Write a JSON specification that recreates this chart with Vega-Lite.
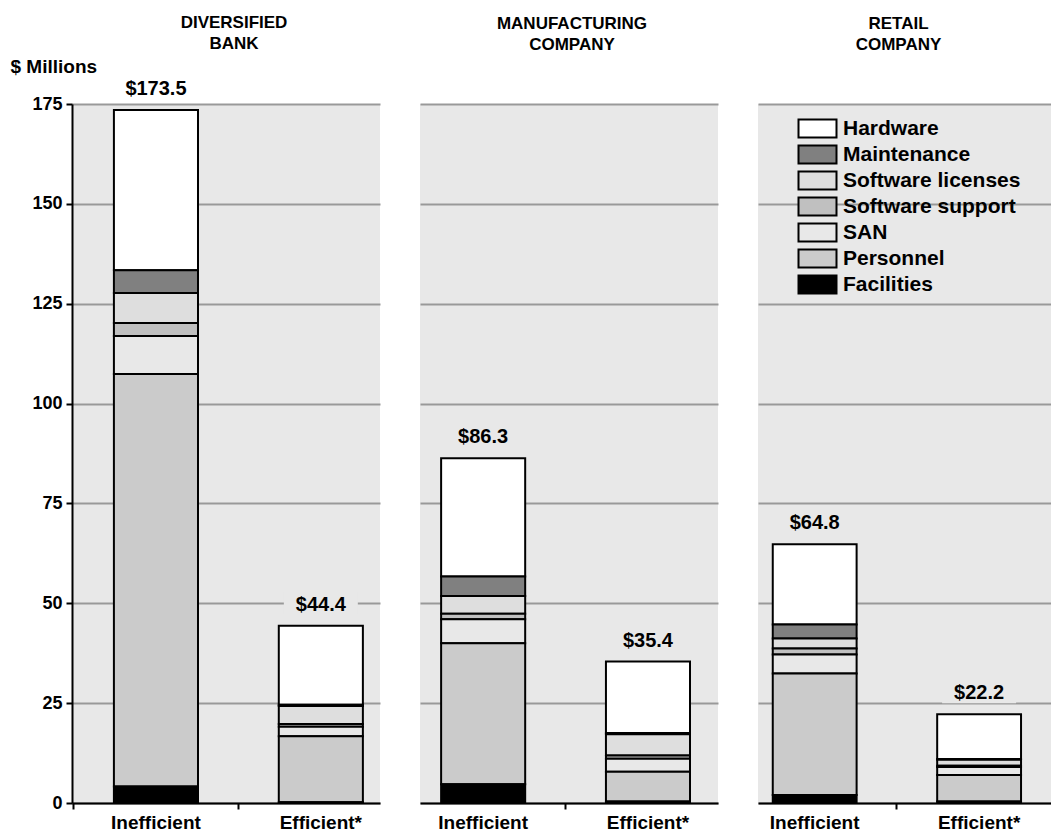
{
  "$schema": "https://vega.github.io/schema/vega-lite/v6.json",
  "background": "white",
  "padding": {"left": 10, "top": 14, "right": 0, "bottom": 0},
  "bounds": "flush",
  "spacing": 40,
  "config": {
    "font": "Liberation Sans",
    "view": {"fill": "#e8e8e8", "stroke": null},
    "title": {"font": "Liberation Sans", "fontWeight": "bold", "fontSize": 17, "color": "black", "lineHeight": 21, "anchor": "middle", "offset": 50},
    "axis": {"labelFont": "Liberation Sans", "titleFont": "Liberation Sans", "labelColor": "black", "titleColor": "black"}
  },
  "datasets": {
    "costs": [
      {"company": "Diversified Bank", "scenario": "Inefficient", "category": "Hardware", "value": 40.1},
      {"company": "Diversified Bank", "scenario": "Inefficient", "category": "Maintenance", "value": 5.7},
      {"company": "Diversified Bank", "scenario": "Inefficient", "category": "Software licenses", "value": 7.5},
      {"company": "Diversified Bank", "scenario": "Inefficient", "category": "Software support", "value": 3.3},
      {"company": "Diversified Bank", "scenario": "Inefficient", "category": "SAN", "value": 9.5},
      {"company": "Diversified Bank", "scenario": "Inefficient", "category": "Personnel", "value": 103.3},
      {"company": "Diversified Bank", "scenario": "Inefficient", "category": "Facilities", "value": 4.1},
      {"company": "Diversified Bank", "scenario": "Efficient*", "category": "Hardware", "value": 19.8},
      {"company": "Diversified Bank", "scenario": "Efficient*", "category": "Maintenance", "value": 0.3},
      {"company": "Diversified Bank", "scenario": "Efficient*", "category": "Software licenses", "value": 4.5},
      {"company": "Diversified Bank", "scenario": "Efficient*", "category": "Software support", "value": 0.7},
      {"company": "Diversified Bank", "scenario": "Efficient*", "category": "SAN", "value": 2.4},
      {"company": "Diversified Bank", "scenario": "Efficient*", "category": "Personnel", "value": 16.5},
      {"company": "Diversified Bank", "scenario": "Efficient*", "category": "Facilities", "value": 0.2},
      {"company": "Manufacturing Company", "scenario": "Inefficient", "category": "Hardware", "value": 29.6},
      {"company": "Manufacturing Company", "scenario": "Inefficient", "category": "Maintenance", "value": 4.9},
      {"company": "Manufacturing Company", "scenario": "Inefficient", "category": "Software licenses", "value": 4.4},
      {"company": "Manufacturing Company", "scenario": "Inefficient", "category": "Software support", "value": 1.4},
      {"company": "Manufacturing Company", "scenario": "Inefficient", "category": "SAN", "value": 6.0},
      {"company": "Manufacturing Company", "scenario": "Inefficient", "category": "Personnel", "value": 35.3},
      {"company": "Manufacturing Company", "scenario": "Inefficient", "category": "Facilities", "value": 4.7},
      {"company": "Manufacturing Company", "scenario": "Efficient*", "category": "Hardware", "value": 17.9},
      {"company": "Manufacturing Company", "scenario": "Efficient*", "category": "Maintenance", "value": 0.3},
      {"company": "Manufacturing Company", "scenario": "Efficient*", "category": "Software licenses", "value": 5.3},
      {"company": "Manufacturing Company", "scenario": "Efficient*", "category": "Software support", "value": 0.8},
      {"company": "Manufacturing Company", "scenario": "Efficient*", "category": "SAN", "value": 3.3},
      {"company": "Manufacturing Company", "scenario": "Efficient*", "category": "Personnel", "value": 7.4},
      {"company": "Manufacturing Company", "scenario": "Efficient*", "category": "Facilities", "value": 0.4},
      {"company": "Retail Company", "scenario": "Inefficient", "category": "Hardware", "value": 20.1},
      {"company": "Retail Company", "scenario": "Inefficient", "category": "Maintenance", "value": 3.5},
      {"company": "Retail Company", "scenario": "Inefficient", "category": "Software licenses", "value": 2.5},
      {"company": "Retail Company", "scenario": "Inefficient", "category": "Software support", "value": 1.5},
      {"company": "Retail Company", "scenario": "Inefficient", "category": "SAN", "value": 4.8},
      {"company": "Retail Company", "scenario": "Inefficient", "category": "Personnel", "value": 30.4},
      {"company": "Retail Company", "scenario": "Inefficient", "category": "Facilities", "value": 2.0},
      {"company": "Retail Company", "scenario": "Efficient*", "category": "Hardware", "value": 11.2},
      {"company": "Retail Company", "scenario": "Efficient*", "category": "Maintenance", "value": 0.2},
      {"company": "Retail Company", "scenario": "Efficient*", "category": "Software licenses", "value": 1.5},
      {"company": "Retail Company", "scenario": "Efficient*", "category": "Software support", "value": 0.3},
      {"company": "Retail Company", "scenario": "Efficient*", "category": "SAN", "value": 2.0},
      {"company": "Retail Company", "scenario": "Efficient*", "category": "Personnel", "value": 6.6},
      {"company": "Retail Company", "scenario": "Efficient*", "category": "Facilities", "value": 0.4}
    ]
  },
  "resolve": {"scale": {"fill": "independent", "x": "independent", "y": "independent"}, "legend": {"fill": "independent"}, "axis": {"x": "independent", "y": "independent"}},
  "hconcat": [
    {
      "width": 308, "height": 699,
      "title": {"text": ["DIVERSIFIED", "BANK"], "dx": 8, "dy": 46},
      "data": {"name": "costs"},
      "transform": [{"filter": "datum.company === 'Diversified Bank'"}],
      "encoding": {
        "x": {"field": "scenario", "type": "nominal", "sort": ["Inefficient", "Efficient*"],
          "scale": {"paddingInner": 0.49, "paddingOuter": 0.179, "align": 0.71},
          "axis": {"title": null, "labelAngle": 0, "labelFontSize": 19, "labelFontWeight": "bold", "labelPadding": 4, "tickSize": 6, "tickWidth": 2, "tickColor": "black", "domainColor": "black", "domainWidth": 2, "bandPosition": -0.48, "grid": false}}
      },
      "layer": [
        {
          "transform": [{"calculate": "indexof(['Hardware', 'Maintenance', 'Software licenses', 'Software support', 'SAN', 'Personnel', 'Facilities'], datum.category)", "as": "stackRank"}],
          "mark": {"type": "bar", "stroke": "black", "strokeWidth": 2},
          "encoding": {
            "y": {"field": "value", "type": "quantitative", "stack": "zero",
              "scale": {"domain": [0, 175], "nice": false},
              "axis": {"values": [0, 25, 50, 75, 100, 125, 150, 175], "title": "$ Millions", "titleAngle": 0, "titleAlign": "left", "titleBaseline": "alphabetic", "titleX": -62, "titleY": -32, "titleFontSize": 19, "titleFontWeight": "bold", "labelFontSize": 18, "labelFontWeight": "bold", "labelPadding": 4, "tickSize": 6, "tickWidth": 2, "tickColor": "black", "domainColor": "black", "domainWidth": 2, "grid": true, "gridColor": "#999999", "gridWidth": 2}},
            "order": {"field": "stackRank", "type": "quantitative", "sort": "descending"},
            "fill": {"field": "category", "type": "nominal",
              "scale": {"domain": ["Hardware", "Maintenance", "Software licenses", "Software support", "SAN", "Personnel", "Facilities"], "range": ["#ffffff", "#808080", "#dedede", "#c0c0c0", "#e8e8e8", "#cbcbcb", "#000000"]},
              "legend": null}
          }
        },
        {
          "transform": [{"aggregate": [{"op": "sum", "field": "value", "as": "total"}], "groupby": ["scenario"]}],
          "mark": {"type": "bar", "fill": "#e8e8e8", "width": 74, "yOffset": -33, "y2Offset": -11, "clip": true},
          "encoding": {"y": {"field": "total", "type": "quantitative"}, "y2": {"field": "total"}}
        },
        {
          "transform": [{"aggregate": [{"op": "sum", "field": "value", "as": "total"}], "groupby": ["scenario"]}],
          "mark": {"type": "text", "dy": -21, "fontSize": 20, "fontWeight": "bold", "font": "Liberation Sans", "color": "black"},
          "encoding": {"y": {"field": "total", "type": "quantitative"}, "text": {"field": "total", "type": "quantitative", "format": "$.1f"}}
        }
      ]
    },
    {
      "width": 298, "height": 699,
      "title": {"text": ["MANUFACTURING", "COMPANY"], "dx": 3},
      "data": {"name": "costs"},
      "transform": [{"filter": "datum.company === 'Manufacturing Company'"}],
      "encoding": {
        "x": {"field": "scenario", "type": "nominal", "sort": ["Inefficient", "Efficient*"],
          "scale": {"paddingInner": 0.49, "paddingOuter": 0.149, "align": 0.43},
          "axis": {"title": null, "labelAngle": 0, "labelFontSize": 19, "labelFontWeight": "bold", "labelPadding": 4, "tickSize": 6, "tickWidth": 2, "tickColor": "black", "domainColor": "black", "domainWidth": 2, "bandPosition": -0.48, "grid": false,
            "tickOpacity": {"condition": {"test": "datum.value === 'Inefficient'", "value": 0}, "value": 1}}}
      },
      "layer": [
        {
          "transform": [{"calculate": "indexof(['Hardware', 'Maintenance', 'Software licenses', 'Software support', 'SAN', 'Personnel', 'Facilities'], datum.category)", "as": "stackRank"}],
          "mark": {"type": "bar", "stroke": "black", "strokeWidth": 2},
          "encoding": {
            "y": {"field": "value", "type": "quantitative", "stack": "zero",
              "scale": {"domain": [0, 175], "nice": false},
              "axis": {"values": [0, 25, 50, 75, 100, 125, 150, 175], "title": null, "labels": false, "ticks": false, "domain": false, "grid": true, "gridColor": "#999999", "gridWidth": 2}},
            "order": {"field": "stackRank", "type": "quantitative", "sort": "descending"},
            "fill": {"field": "category", "type": "nominal",
              "scale": {"domain": ["Hardware", "Maintenance", "Software licenses", "Software support", "SAN", "Personnel", "Facilities"], "range": ["#ffffff", "#808080", "#dedede", "#c0c0c0", "#e8e8e8", "#cbcbcb", "#000000"]},
              "legend": null}
          }
        },
        {
          "transform": [{"aggregate": [{"op": "sum", "field": "value", "as": "total"}], "groupby": ["scenario"]}],
          "mark": {"type": "bar", "fill": "#e8e8e8", "width": 74, "yOffset": -33, "y2Offset": -11, "clip": true},
          "encoding": {"y": {"field": "total", "type": "quantitative"}, "y2": {"field": "total"}}
        },
        {
          "transform": [{"aggregate": [{"op": "sum", "field": "value", "as": "total"}], "groupby": ["scenario"]}],
          "mark": {"type": "text", "dy": -21, "fontSize": 20, "fontWeight": "bold", "font": "Liberation Sans", "color": "black"},
          "encoding": {"y": {"field": "total", "type": "quantitative"}, "text": {"field": "total", "type": "quantitative", "format": "$.1f"}}
        }
      ]
    },
    {
      "width": 293, "height": 699,
      "title": {"text": ["RETAIL", "COMPANY"], "dx": -6},
      "data": {"name": "costs"},
      "transform": [{"filter": "datum.company === 'Retail Company'"}],
      "encoding": {
        "x": {"field": "scenario", "type": "nominal", "sort": ["Inefficient", "Efficient*"],
          "scale": {"paddingInner": 0.49, "paddingOuter": 0.136, "align": 0.33},
          "axis": {"title": null, "labelAngle": 0, "labelFontSize": 19, "labelFontWeight": "bold", "labelPadding": 4, "tickSize": 6, "tickWidth": 2, "tickColor": "black", "domainColor": "black", "domainWidth": 2, "bandPosition": -0.48, "grid": false,
            "tickOpacity": {"condition": {"test": "datum.value === 'Inefficient'", "value": 0}, "value": 1}}}
      },
      "layer": [
        {
          "transform": [{"calculate": "indexof(['Hardware', 'Maintenance', 'Software licenses', 'Software support', 'SAN', 'Personnel', 'Facilities'], datum.category)", "as": "stackRank"}],
          "mark": {"type": "bar", "stroke": "black", "strokeWidth": 2},
          "encoding": {
            "y": {"field": "value", "type": "quantitative", "stack": "zero",
              "scale": {"domain": [0, 175], "nice": false},
              "axis": {"values": [0, 25, 50, 75, 100, 125, 150, 175], "title": null, "labels": false, "ticks": false, "domain": false, "grid": true, "gridColor": "#999999", "gridWidth": 2}},
            "order": {"field": "stackRank", "type": "quantitative", "sort": "descending"},
            "fill": {"field": "category", "type": "nominal",
              "scale": {"domain": ["Hardware", "Maintenance", "Software licenses", "Software support", "SAN", "Personnel", "Facilities"], "range": ["#ffffff", "#808080", "#dedede", "#c0c0c0", "#e8e8e8", "#cbcbcb", "#000000"]},
              "legend": {"title": null, "orient": "none", "legendX": 49, "legendY": 14, "symbolType": "M-2.111,-1H2.111V1H-2.111Z", "symbolSize": 324, "symbolStrokeColor": "black", "symbolStrokeWidth": 2, "symbolOpacity": 1, "labelFont": "Liberation Sans", "labelFontSize": 21, "labelFontWeight": "bold", "labelColor": "black", "labelOffset": 15, "labelLimit": 400, "rowPadding": -1}}
          }
        },
        {
          "transform": [{"aggregate": [{"op": "sum", "field": "value", "as": "total"}], "groupby": ["scenario"]}],
          "mark": {"type": "bar", "fill": "#e8e8e8", "width": 74, "yOffset": -33, "y2Offset": -11, "clip": true},
          "encoding": {"y": {"field": "total", "type": "quantitative"}, "y2": {"field": "total"}}
        },
        {
          "transform": [{"aggregate": [{"op": "sum", "field": "value", "as": "total"}], "groupby": ["scenario"]}],
          "mark": {"type": "text", "dy": -21, "fontSize": 20, "fontWeight": "bold", "font": "Liberation Sans", "color": "black"},
          "encoding": {"y": {"field": "total", "type": "quantitative"}, "text": {"field": "total", "type": "quantitative", "format": "$.1f"}}
        }
      ]
    }
  ]
}
